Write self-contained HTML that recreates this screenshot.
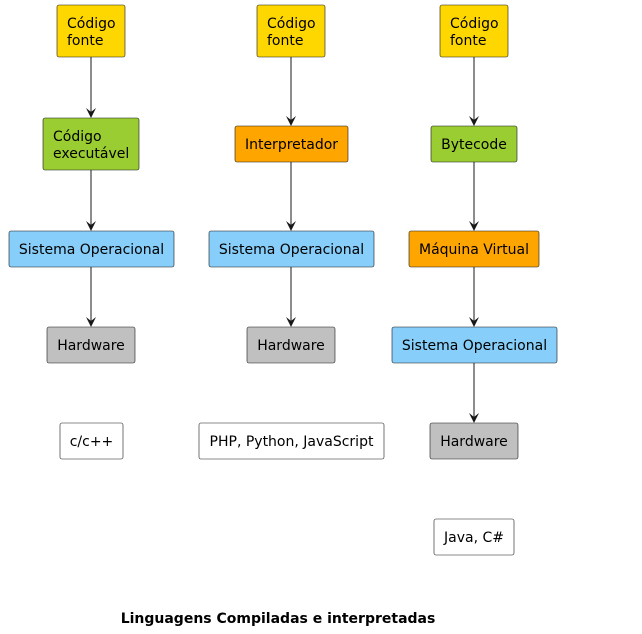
<!DOCTYPE html>
<html><head><meta charset="utf-8"><style>
html,body{margin:0;padding:0;background:#fff;}
svg{display:block;}
text{font-family:"DejaVu Sans","Liberation Sans",sans-serif;font-size:14px;fill:#000;}
</style></head><body>
<svg width="642" height="634" viewBox="0 0 642 634" xmlns="http://www.w3.org/2000/svg">
<g stroke="#181818" stroke-width="1" fill="none">
<line x1="91" y1="57" x2="91" y2="114"/>
<line x1="91" y1="170" x2="91" y2="227"/>
<line x1="91" y1="267" x2="91" y2="323"/>
<line x1="291" y1="57" x2="291" y2="122"/>
<line x1="291" y1="162" x2="291" y2="227"/>
<line x1="291" y1="267" x2="291" y2="323"/>
<line x1="474" y1="57" x2="474" y2="122"/>
<line x1="474" y1="162" x2="474" y2="227"/>
<line x1="474" y1="267" x2="474" y2="323"/>
<line x1="474" y1="363" x2="474" y2="419"/>
</g>
<g fill="#181818">
<path d="M86,108 L91,118 L96,108 L91,112 Z"/>
<path d="M86,221 L91,231 L96,221 L91,225 Z"/>
<path d="M86,317 L91,327 L96,317 L91,321 Z"/>
<path d="M286,116 L291,126 L296,116 L291,120 Z"/>
<path d="M286,221 L291,231 L296,221 L291,225 Z"/>
<path d="M286,317 L291,327 L296,317 L291,321 Z"/>
<path d="M469,116 L474,126 L479,116 L474,120 Z"/>
<path d="M469,221 L474,231 L479,221 L474,225 Z"/>
<path d="M469,317 L474,327 L479,317 L474,321 Z"/>
<path d="M469,413 L474,423 L479,413 L474,417 Z"/>
</g>
<g stroke="#181818" stroke-width="0.6">
<rect x="57" y="5" width="68" height="52" rx="2" fill="#FFD700"/>
<rect x="43" y="118" width="96" height="52" rx="2" fill="#9ACD32"/>
<rect x="9" y="231" width="165" height="36" rx="2" fill="#87CEFA"/>
<rect x="47" y="327" width="88" height="36" rx="2" fill="#C0C0C0"/>
<rect x="60" y="423" width="63" height="36" rx="2" fill="#fff"/>
<rect x="257" y="5" width="68" height="52" rx="2" fill="#FFD700"/>
<rect x="235" y="126" width="113" height="36" rx="2" fill="#FFA500"/>
<rect x="209" y="231" width="165" height="36" rx="2" fill="#87CEFA"/>
<rect x="247" y="327" width="88" height="36" rx="2" fill="#C0C0C0"/>
<rect x="199" y="423" width="185" height="36" rx="2" fill="#fff"/>
<rect x="440" y="5" width="68" height="52" rx="2" fill="#FFD700"/>
<rect x="431" y="126" width="86" height="36" rx="2" fill="#9ACD32"/>
<rect x="409" y="231" width="130" height="36" rx="2" fill="#FFA500"/>
<rect x="392" y="327" width="165" height="36" rx="2" fill="#87CEFA"/>
<rect x="430" y="423" width="88" height="36" rx="2" fill="#C0C0C0"/>
<rect x="434" y="519" width="80" height="36" rx="2" fill="#fff"/>
</g>
<text x="67" y="28">Código</text><text x="67" y="45">fonte</text>
<text x="53" y="141">Código</text><text x="53" y="158">executável</text>
<text x="91.5" y="254" text-anchor="middle">Sistema Operacional</text>
<text x="91" y="350" text-anchor="middle">Hardware</text>
<text x="91.5" y="446" text-anchor="middle">c/c++</text>
<text x="267" y="28">Código</text><text x="267" y="45">fonte</text>
<text x="291.5" y="149" text-anchor="middle">Interpretador</text>
<text x="291.5" y="254" text-anchor="middle">Sistema Operacional</text>
<text x="291" y="350" text-anchor="middle">Hardware</text>
<text x="291.5" y="446" text-anchor="middle">PHP, Python, JavaScript</text>
<text x="450" y="28">Código</text><text x="450" y="45">fonte</text>
<text x="474" y="149" text-anchor="middle">Bytecode</text>
<text x="474" y="254" text-anchor="middle">Máquina Virtual</text>
<text x="474.5" y="350" text-anchor="middle">Sistema Operacional</text>
<text x="474" y="446" text-anchor="middle">Hardware</text>
<text x="474" y="542" text-anchor="middle">Java, C#</text>
<text x="278" y="623" text-anchor="middle" font-weight="bold">Linguagens Compiladas e interpretadas</text>
</svg>
</body></html>
